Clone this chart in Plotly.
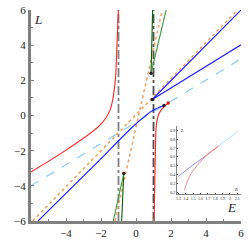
import plotly.graph_objects as go

# ---- data ----
red_left_E = [-6.05, -3.96, -2.06, -1.49, -1.2, -1.1, -1.01]
red_left_L = [-3.24, -1.94, -0.55, 0.29, 1.83, 3.7, 6.0]
red_right_E = [1.03, 1.08, 1.12, 1.16, 1.31, 1.55, 1.84]
red_right_L = [-6.0, -3.4, -1.5, -0.57, 0.1, 0.45, 0.71]

blue_low_E = [-5.6, -2.5, -0.11, 0.5, 0.97, 1.6]
blue_low_L = [-6.0, -2.95, -0.57, -0.05, 0.3, 0.57]
blue_steep_E = [0.93, 6.0]
blue_steep_L = [0.91, 6.0]
blue_flat_E = [0.93, 6.0]
blue_flat_L = [0.91, 4.02]

lightblue_E = [-6.0, 6.0]
lightblue_L = [-4.0, 3.22]

orange1_E = [-5.9, 5.8]
orange1_L = [-6.0, 6.0]
orange2_E = [-1.2, 1.5]
orange2_L = [-6.0, 6.0]

green_top_dark_E = [0.86, 0.95]
green_top_dark_L = [2.4, 6.0]
green_top_light_E = [0.86, 1.72]
green_top_light_L = [2.4, 6.0]
green_bot_dark_E = [-0.7, -0.82]
green_bot_dark_L = [-3.3, -6.0]
green_bot_light_E = [-0.7, -1.3]
green_bot_light_L = [-3.3, -6.0]

asym_E = [-1.0, 1.0]

marker_E = [0.86, 0.93, 1.6, -0.7]
marker_L = [2.4, 0.91, 0.57, -3.3]
red_marker_E = [1.84]
red_marker_L = [0.71]

# inset data
in_blue_E = [1.3, 1.45, 1.65]
in_blue_L = [0.38, 0.48, 0.6]
in_red1_E = [1.65, 1.84]
in_red1_L = [0.6, 0.72]
in_red2_E = [1.38, 1.45, 1.55, 1.7, 1.84]
in_red2_L = [0.22, 0.38, 0.5, 0.63, 0.72]
in_lb_E = [1.84, 2.11]
in_lb_L = [0.72, 0.89]

x_ticks = [-4, -2, 0, 2, 4, 6]
y_ticks = [-6, -4, -2, 0, 2, 4, 6]
in_x_ticks = [1.3, 1.4, 1.5, 1.6, 1.7, 1.8, 1.9, 2.0, 2.1]
in_y_ticks = [0.2, 0.3, 0.4, 0.5, 0.6, 0.7, 0.8, 0.9]

RED = "#ff2020"
BLUE = "#1a1aff"
LB = "#87cefa"
OR = "#f0a060"
GD = "#006400"
GL = "#3a9a3a"
GRAY = "#808080"

fig = go.Figure()

def line(x, y, color, width=1.1, dash="solid", shape="linear", xa="x", ya="y"):
    fig.add_trace(go.Scatter(x=x, y=y, mode="lines", line=dict(color=color, width=width, dash=dash, shape=shape),
                             xaxis=xa, yaxis=ya, showlegend=False, hoverinfo="skip"))

line([asym_E[0]] * 2, [-6, 6], GRAY, 1.8, "dashdot")
line([asym_E[1]] * 2, [-6, 6], "#505050", 1.8, "dashdot")
line(lightblue_E, lightblue_L, LB, 1.2, "dash")
line(orange1_E, orange1_L, OR, 1.5, "dot")
line(orange2_E, orange2_L, OR, 1.5, "dot")
line(red_left_E, red_left_L, RED, shape="spline")
line(red_right_E, red_right_L, RED, shape="spline")
line(blue_low_E, blue_low_L, BLUE, shape="spline")
line(blue_steep_E, blue_steep_L, BLUE)
line(blue_flat_E, blue_flat_L, BLUE)
line(green_top_dark_E, green_top_dark_L, GD)
line(green_top_light_E, green_top_light_L, GL)
line(green_bot_dark_E, green_bot_dark_L, GD)
line(green_bot_light_E, green_bot_light_L, GL)

fig.add_trace(go.Scatter(x=marker_E, y=marker_L, mode="markers", marker=dict(color="#222222", size=3.5),
                         showlegend=False, hoverinfo="skip"))
fig.add_trace(go.Scatter(x=red_marker_E, y=red_marker_L, mode="markers", marker=dict(color="#cc2020", size=3.5),
                         showlegend=False, hoverinfo="skip"))

# inset
line(in_blue_E, in_blue_L, "#8080ff", 0.9, xa="x2", ya="y2")
line(in_red1_E, in_red1_L, "#ff6060", 0.9, xa="x2", ya="y2")
line(in_red2_E, in_red2_L, "#ff8080", 0.9, shape="spline", xa="x2", ya="y2")
line(in_lb_E, in_lb_L, "#b0dcfa", 0.9, xa="x2", ya="y2")

FONT = "Liberation Serif"
fig.update_layout(
    template="none",
    width=249, height=249, margin=dict(l=31, r=8, t=10, b=28, autoexpand=False),
    paper_bgcolor="white", plot_bgcolor="white",
    font=dict(family=FONT, size=11, color="#222222"),
    xaxis=dict(range=[-6, 6], tickvals=x_ticks, ticktext=[("\u2212" if v < 0 else "") + str(abs(v)) for v in x_ticks],
               showgrid=False, zeroline=False, showline=True, linecolor=GRAY, linewidth=3, automargin=False,
               ticks="inside", ticklen=3, tickcolor=GRAY,
               minor=dict(dtick=1, ticks="inside", ticklen=2, tickcolor=GRAY)),
    yaxis=dict(range=[-6, 6], tickvals=y_ticks, ticktext=[("\u2212" if v < 0 else "") + str(abs(v)) for v in y_ticks],
               showgrid=False, zeroline=False, showline=True, linecolor=GRAY, linewidth=3, automargin=False,
               ticks="inside", ticklen=3, tickcolor=GRAY,
               minor=dict(dtick=1, ticks="inside", ticklen=2, tickcolor=GRAY)),
    xaxis2=dict(domain=[0.695, 1.0], anchor="y2", range=[1.28, 2.15], tickvals=in_x_ticks, automargin=False,
                showgrid=False, zeroline=False, showline=True, linecolor=GRAY, linewidth=1,
                ticks="inside", ticklen=1, tickfont=dict(size=4), tickangle=0),
    yaxis2=dict(domain=[0.128, 0.45], anchor="x2", range=[0.18, 0.95], tickvals=in_y_ticks, automargin=False,
                showgrid=False, zeroline=False, showline=True, linecolor=GRAY, linewidth=1,
                ticks="inside", ticklen=1, tickfont=dict(size=4)),
    annotations=[
        dict(text="<i>L</i>", x=0.005, y=1.0, xref="paper", yref="paper", showarrow=False,
             font=dict(size=13, family=FONT), xanchor="left", yanchor="top"),
        dict(text="<i>E</i>", x=0.985, y=0.02, xref="paper", yref="paper", showarrow=False,
             font=dict(size=13, family=FONT), xanchor="right", yanchor="bottom"),
        dict(text="<i>L</i>", x=0.70, y=0.45, xref="paper", yref="paper", showarrow=False,
             font=dict(size=5, family=FONT), xanchor="left", yanchor="top"),
        dict(text="<i>E</i>", x=0.995, y=0.13, xref="paper", yref="paper", showarrow=False,
             font=dict(size=5, family=FONT), xanchor="right", yanchor="bottom"),
    ],
)

fig.write_html("out.html", config={"displayModeBar": False, "staticPlot": True},
               post_script="document.body.style.margin='0';document.body.style.overflow='hidden';")
